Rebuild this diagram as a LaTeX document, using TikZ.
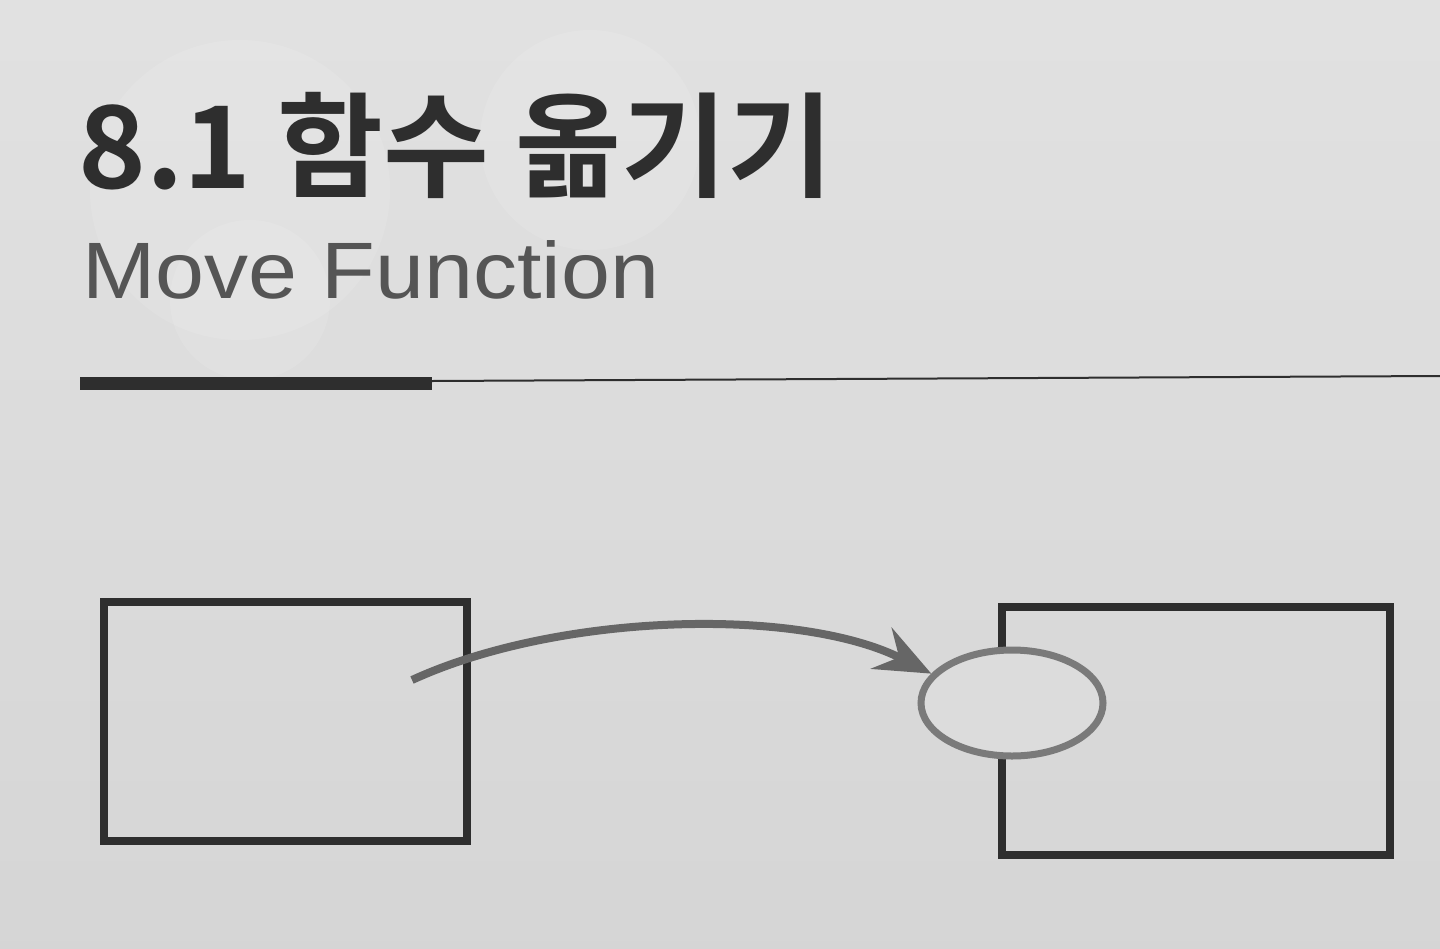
\documentclass[tikz,border=0pt]{standalone}
\usepackage{fontspec}
\newfontfamily\krbold{Noto Sans CJK KR Bold}
\newfontfamily\helv{Liberation Sans}
\usetikzlibrary{shapes.geometric,arrows.meta}
\definecolor{paper}{HTML}{DCDCDC}
\definecolor{ink}{HTML}{2E2E2E}
\definecolor{subink}{HTML}{555555}
\definecolor{arrowink}{HTML}{666666}
\definecolor{ellink}{HTML}{7A7A7A}
\tikzset{
  box/.style={draw=ink, line width=8pt, rectangle, inner sep=0pt},
  moved/.style={draw=ellink, line width=7pt, ellipse, inner sep=0pt, fill=paper},
  movearrow/.style={draw=arrowink, line width=8pt, -{Stealth[length=56pt,width=46pt,inset=20pt]}},
  halo/.style={fill=white, opacity=0.10, draw=none}
}
\begin{document}
\begin{tikzpicture}[x=1pt,y=-1pt]
% paper
\shade[top color=paper!85!white, bottom color=paper!97!black] (0,0) rectangle (1440,948);
\useasboundingbox (0,0) rectangle (1440,948);
% faint watermark circles
\fill[halo] (240,190) circle (150);
\fill[halo] (590,140) circle (110);
\fill[halo] (250,300) circle (80);
% title
\node[anchor=base west, inner sep=0pt, text=ink, xscale=1.01] (title) at (78,188)
  {\krbold\fontsize{114}{114}\selectfont 8.1 함수 옮기기};
\node[anchor=base west, inner sep=0pt, text=subink, xscale=1.1] (subtitle) at (82,298)
  {\helv\fontsize{80}{80}\selectfont Move Function};
% rule
\draw[ink, line width=13pt] (80,383.5) -- (432,383.5);
\draw[ink, line width=2pt] (432,381) -- (1440,376);
% boxes
\node[box, minimum width=363pt, minimum height=239pt] (src) at (285.5,721.5) {};
\node[box, minimum width=388pt, minimum height=248pt] (dst) at (1196,731) {};
% moved function
\node[moved, minimum width=182pt, minimum height=106pt] (fn) at (1012,703) {};
% arrow
\coordinate (start) at (412,680);
\draw[movearrow] (start) .. controls (560,612) and (800,607) .. (fn.160);
\end{tikzpicture}
\end{document}
